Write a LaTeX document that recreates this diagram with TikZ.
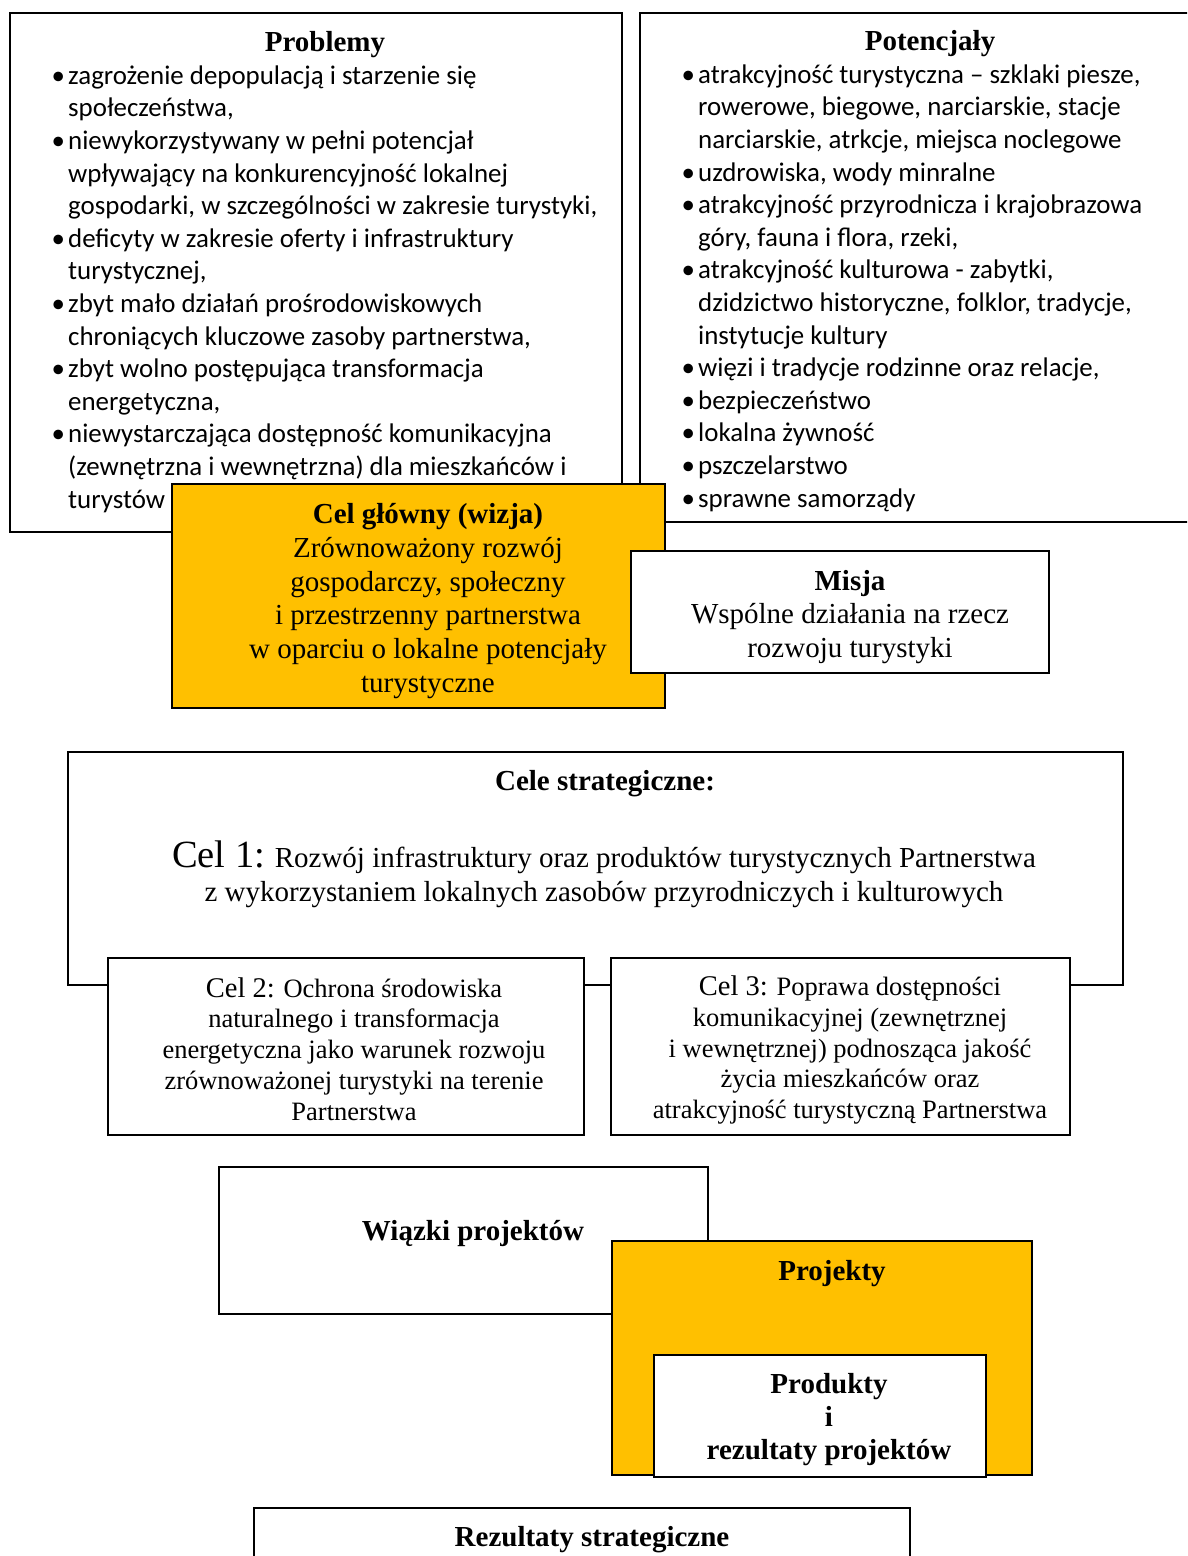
\documentclass[tikz,border=0pt]{standalone}
\usepackage{fontspec}
\setmainfont{Liberation Serif}
\newfontfamily\calfont{Carlito}
\definecolor{gold}{HTML}{FFC000}
\begin{document}
\begin{tikzpicture}[x=1pt,y=-1pt,
  box/.style={draw=black,line width=1.6pt,fill=white},
  goldbox/.style={draw=black,line width=1.6pt,fill=gold},
  listtxt/.style={inner sep=0pt,anchor=base west,align=left,font=\calfont\fontsize{26.9}{32.6}\selectfont},
  sertxt/.style={inner sep=0pt,align=center,font=\fontsize{29}{33.8}\selectfont},
  smalltxt/.style={inner sep=0pt,align=center,font=\fontsize{26.5}{30.8}\selectfont},
  hdtxt/.style={inner sep=0pt,font=\bfseries\fontsize{29}{33.8}\selectfont}]
\useasboundingbox (0,0) rectangle (1187,1556);
\clip (0,0) rectangle (1187,1556);
% top boxes
\draw[box] (10,13) rectangle (622,532);
\draw[box] (640,13) rectangle (1200,522);
\node[hdtxt] (probt) at (325,45) {Problemy};
\node[hdtxt] (pott) at (930,44) {Potencjały};
\newcommand{\bl}{\makebox[16.5pt][l]{•}}
\newcommand{\ind}{\hspace*{16.5pt}}
\node[listtxt] (probl) at (51.5,508) {\bl zagrożenie depopulacją i starzenie się\\
\ind społeczeństwa,\\
\bl niewykorzystywany w pełni potencjał\\
\ind wpływający na konkurencyjność lokalnej\\
\ind gospodarki, w szczególności w zakresie turystyki,\\
\bl deficyty w zakresie oferty i infrastruktury\\
\ind turystycznej,\\
\bl zbyt mało działań prośrodowiskowych\\
\ind chroniących kluczowe zasoby partnerstwa,\\
\bl zbyt wolno postępująca transformacja\\
\ind energetyczna,\\
\bl niewystarczająca dostępność komunikacyjna\\
\ind (zewnętrzna i wewnętrzna) dla mieszkańców i\\
\ind turystów};
\node[listtxt] (potl) at (681.5,507) {\bl atrakcyjność turystyczna – szklaki piesze,\\
\ind rowerowe, biegowe, narciarskie, stacje\\
\ind narciarskie, atrkcje, miejsca noclegowe\\
\bl uzdrowiska, wody minralne\\
\bl atrakcyjność przyrodnicza i krajobrazowa\\
\ind góry, fauna i flora, rzeki,\\
\bl atrakcyjność kulturowa - zabytki,\\
\ind dzidzictwo historyczne, folklor, tradycje,\\
\ind instytucje kultury\\
\bl więzi i tradycje rodzinne oraz relacje,\\
\bl bezpieczeństwo\\
\bl lokalna żywność\\
\bl pszczelarstwo\\
\bl sprawne samorządy};
% vision and mission
\draw[goldbox] (172,484) rectangle (665,708);
\node[sertxt] (celg) at (428,601) {\textbf{Cel główny (wizja)}\\Zrównoważony rozwój\\gospodarczy, społeczny\\i przestrzenny partnerstwa\\w oparciu o lokalne potencjały\\turystyczne};
\draw[box] (631,551) rectangle (1049,673);
\node[sertxt] (misja) at (850,617) {\textbf{Misja}\\Wspólne działania na rzecz\\rozwoju turystyki};
% strategic goals
\draw[box] (68,752) rectangle (1123,985);
\node[hdtxt] (celest) at (605,784) {Cele strategiczne:};
\node[sertxt] (cel1) at (604,874) {{\fontsize{38.5}{40}\selectfont Cel 1:} Rozwój infrastruktury oraz produktów turystycznych Partnerstwa\\z wykorzystaniem lokalnych zasobów przyrodniczych i kulturowych};
\draw[box] (108,958) rectangle (584,1135);
\draw[box] (611,958) rectangle (1070,1135);
\node[smalltxt] (cel2) at (354,1049) {{\fontsize{28.5}{30}\selectfont Cel 2:} Ochrona środowiska\\naturalnego i transformacja\\energetyczna jako warunek rozwoju\\zrównoważonej turystyki na terenie\\Partnerstwa};
\node[smalltxt] (cel3) at (850,1050) {{\fontsize{28.5}{30}\selectfont Cel 3:} Poprawa dostępności\\komunikacyjnej (zewnętrznej\\i wewnętrznej) podnosząca jakość\\życia mieszkańców oraz\\atrakcyjność turystyczną Partnerstwa};
% projects
\draw[box] (219,1167) rectangle (708,1314);
\node[hdtxt] (wiaz) at (473,1233) {Wiązki projektów};
\draw[goldbox] (612,1241) rectangle (1032,1475);
\node[hdtxt] (proj) at (832,1274) {Projekty};
\draw[box] (654,1355) rectangle (986,1477);
\node[sertxt,font=\bfseries\fontsize{29}{33}\selectfont] (prod) at (829,1420) {Produkty\\i\\rezultaty projektów};
\draw[box] (254,1508) rectangle (910,1580);
\node[hdtxt] (rez) at (592,1540) {Rezultaty strategiczne};
\end{tikzpicture}
\end{document}
